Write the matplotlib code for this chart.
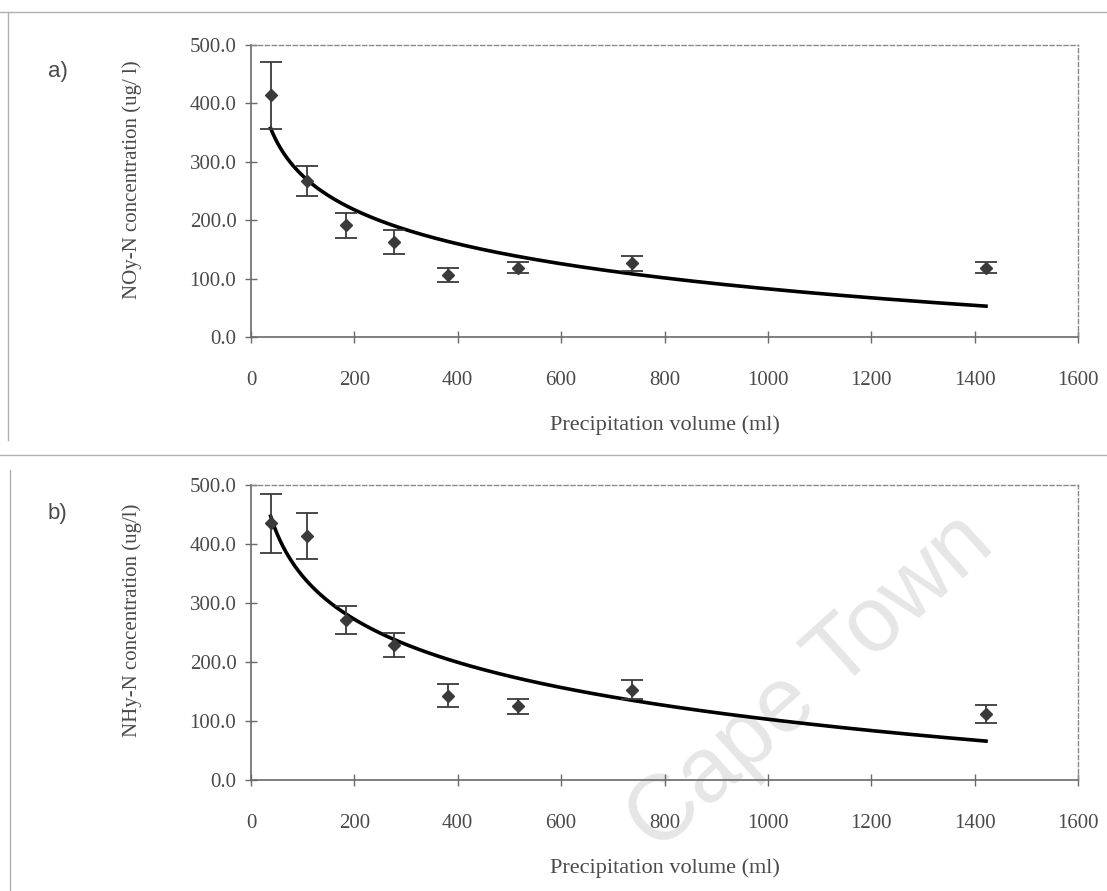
"""
NOy-N and NHy-N concentration against precipitation volume,
with a logarithmic trend line fitted to the sample means.
"""

import numpy as np
import matplotlib
matplotlib.use("Agg")
import matplotlib.pyplot as plt
from matplotlib.lines import Line2D

# precipitation volume of each sample (ml)
volume = [38, 108, 183, 277, 382, 517, 737, 1422]

# a) NOy-N concentration (ug/l) and error bar half-widths
noy = [414, 267, 191, 163, 106, 119, 126, 119]
noy_err = [57, 25, 22, 21, 12, 9, 13, 10]

# b) NHy-N concentration (ug/l) and error bar half-widths
nhy = [435, 414, 271, 229, 143, 125, 153, 112]
nhy_err = [50, 39, 24, 20, 20, 13, 16, 15]

x_ticks = [0, 200, 400, 600, 800, 1000, 1200, 1400, 1600]
y_ticks = [0, 100, 200, 300, 400, 500]

SERIF = ["Liberation Serif", "DejaVu Serif"]
TEXT = "#4a4a4a"

W, H = 1107, 891
fig = plt.figure(figsize=(W / 100, H / 100), dpi=100)
fig.patch.set_facecolor("white")


def px_box(left, top, right, bottom):
    """Pixel box -> figure fraction rect."""
    return [left / W, 1 - bottom / H, (right - left) / W, (bottom - top) / H]


def draw_panel(rect, y, yerr, ylabel, tag, tag_y, label_right):
    ax = fig.add_axes(rect)
    ax.set_facecolor("none")
    ax.set_zorder(2)

    # log trend line fitted to the means (as Excel does)
    b, a = np.polyfit(np.log(volume), y, 1)
    xs = np.geomspace(volume[0], volume[-1], 200)
    ax.plot(xs, a + b * np.log(xs), color="black", lw=2.6, zorder=3)

    ax.errorbar(volume, y, yerr=yerr, fmt="D", color="#3a3a3a",
                markersize=6.5, ecolor="#3a3a3a", elinewidth=1.3,
                capsize=8, capthick=1.3, zorder=4)

    ax.set_xlim(0, 1600)
    ax.set_ylim(0, 500)
    ax.set_xticks(x_ticks)
    ax.set_yticks(y_ticks)
    ax.set_yticklabels([f"{v:.1f}" for v in y_ticks])

    for side in ["left", "bottom"]:
        ax.spines[side].set_color("#6a6a6a")
        ax.spines[side].set_linewidth(1.2)
    for side in ["top", "right"]:
        ax.spines[side].set_color("#8a8a8a")
        ax.spines[side].set_linestyle((0, (3, 2)))
        ax.spines[side].set_linewidth(1.0)

    ax.tick_params(axis="both", direction="inout", length=9, width=1.0,
                   color="#6a6a6a", labelsize=15, labelcolor=TEXT)
    ax.tick_params(axis="y", pad=6)
    ax.tick_params(axis="x", pad=20)
    for lab in ax.get_xticklabels() + ax.get_yticklabels():
        lab.set_family(SERIF)

    ax.set_xlabel("Precipitation volume (ml)", fontsize=16, color=TEXT,
                  family=SERIF, labelpad=18)
    ax.set_ylabel(ylabel, fontsize=15, color=TEXT, family=SERIF)
    ax.yaxis.set_label_coords(label_right, 0.54)

    fig.text(48 / W, 1 - tag_y / H, tag, fontsize=16, color=TEXT,
             family=["Liberation Sans", "DejaVu Sans"], va="center")
    return ax


draw_panel(px_box(251, 45, 1078, 337), noy, noy_err,
           "NOy-N concentration (ug/ l)", "a)", 72, -0.132)
draw_panel(px_box(251, 485, 1078, 780), nhy, nhy_err,
           "NHy-N concentration (ug/l)", "b)", 514, -0.132)

# chart-area borders of the scanned figure
border = dict(color="#b0b0b0", lw=1.0, transform=fig.transFigure, zorder=1)
for xs_, ys_ in [((0, 1), (1 - 12 / H, 1 - 12 / H)),
                 ((8 / W, 8 / W), (1 - 12 / H, 1 - 440 / H)),
                 ((0, 1), (1 - 455 / H, 1 - 455 / H)),
                 ((10 / W, 10 / W), (1 - 470 / H, 0))]:
    fig.add_artist(Line2D(xs_, ys_, **border))

# faint repository watermark behind the plots
fig.text(0.9, 0.385, "Cape Town", rotation=42,
         rotation_mode="anchor", ha="right", va="baseline",
         fontsize=66, color="#e6e6e6",
         family=["Liberation Sans", "DejaVu Sans"], zorder=0)

fig.savefig("out.png", dpi=100)
